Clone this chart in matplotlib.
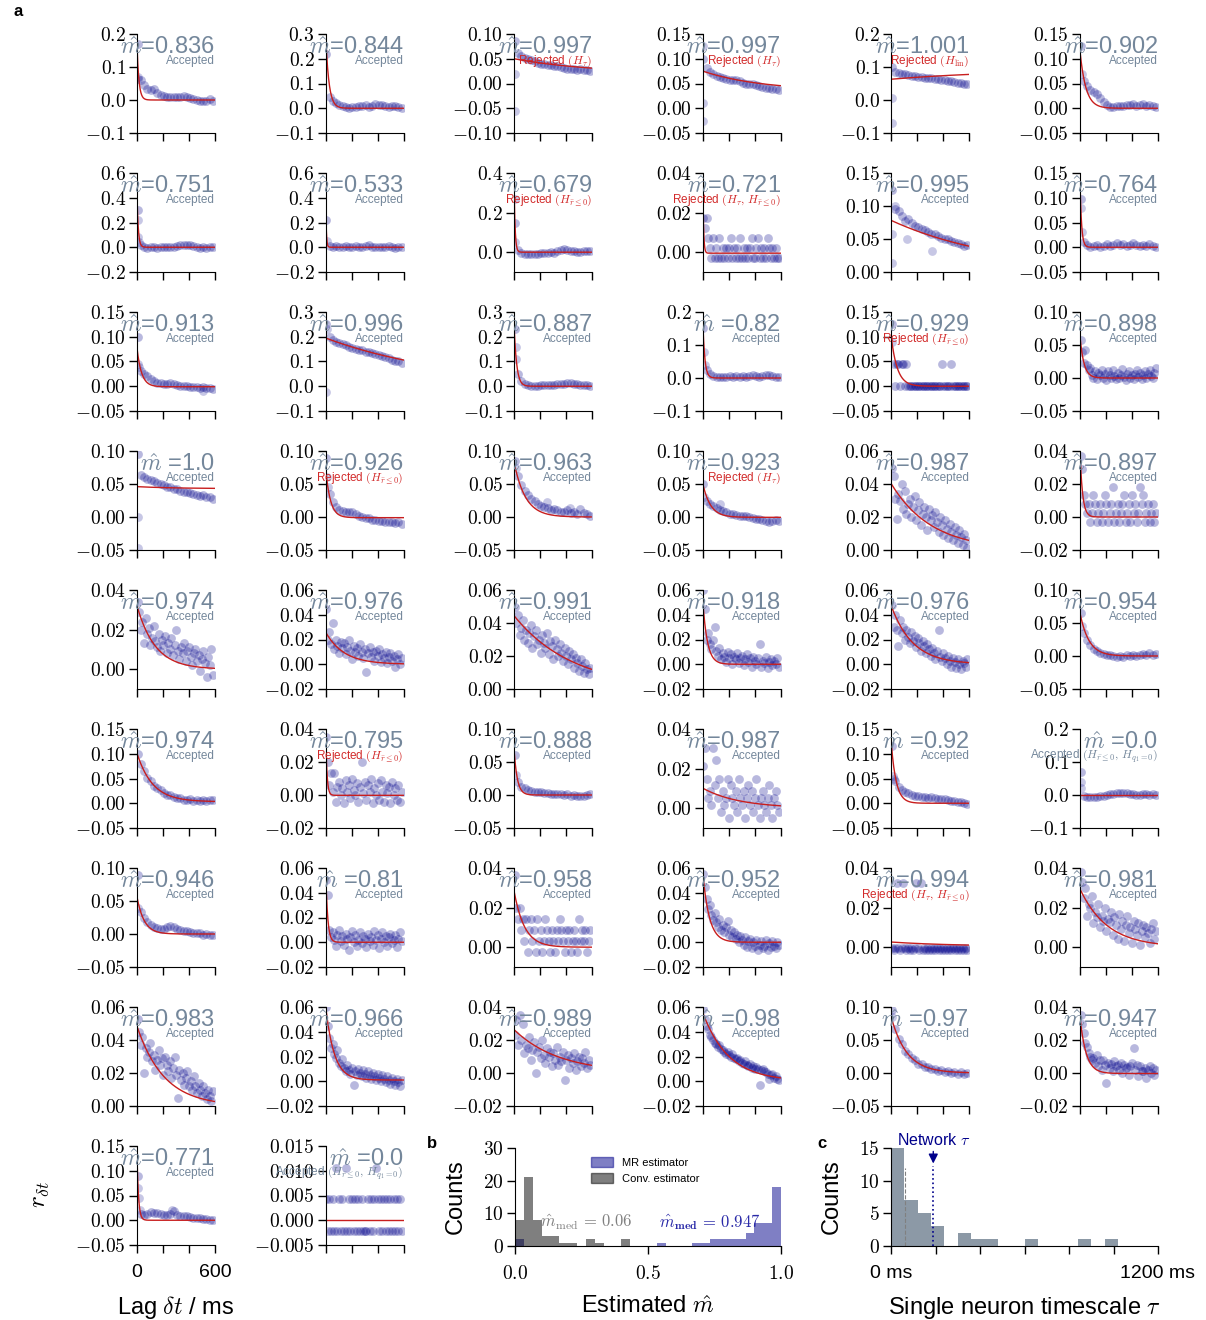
import numpy as np
import matplotlib
matplotlib.use("Agg")
import matplotlib.pyplot as plt
from matplotlib.patches import Patch

plt.rcParams['font.family'] = ['Liberation Sans', 'DejaVu Sans']
plt.rcParams['mathtext.fontset'] = 'cm'

W, H = 1206, 1320
SLATE = '#74879b'
RED = '#d22a2a'
DOT = '#00008b'

# ---- panel a: one entry per neuron (row-major, 6 per row) ----
M_HAT = ['0.836', '0.844', '0.997', '0.997', '1.001', '0.902',
         '0.751', '0.533', '0.679', '0.721', '0.995', '0.764',
         '0.913', '0.996', '0.887', '0.82', '0.929', '0.898',
         '1.0', '0.926', '0.963', '0.923', '0.987', '0.897',
         '0.974', '0.976', '0.991', '0.918', '0.976', '0.954',
         '0.974', '0.795', '0.888', '0.987', '0.92', '0.0',
         '0.946', '0.81', '0.958', '0.952', '0.994', '0.981',
         '0.983', '0.966', '0.989', '0.98', '0.97', '0.947',
         '0.771', '0.0']

STATUS = ['A', 'A', 'Rt', 'Rt', 'Rl', 'A',
          'A', 'A', 'Rr', 'Rtr', 'A', 'A',
          'A', 'A', 'A', 'A', 'Rr', 'A',
          'A', 'Rr', 'A', 'Rt', 'A', 'A',
          'A', 'A', 'A', 'A', 'A', 'A',
          'A', 'Rr', 'A', 'A', 'A', 'Aq',
          'A', 'A', 'A', 'A', 'Rtr', 'A',
          'A', 'A', 'A', 'A', 'A', 'A',
          'A', 'Aq']

STATUS_TEXT = {
    'A': ('Accepted', SLATE),
    'Rt': (r'Rejected $(H_{\tau})$', RED),
    'Rr': (r'Rejected $(H_{\bar{r}\leq 0})$', RED),
    'Rtr': (r'Rejected $(H_{\tau},\,H_{\bar{r}\leq 0})$', RED),
    'Rl': (r'Rejected $(H_{\mathrm{lin}})$', RED),
    'Aq': (r'Accepted $(H_{\bar{r}\leq 0},\,H_{q_1=0})$', SLATE),
}

Y_LO = [-0.1, -0.1, -0.1, -0.05, -0.1, -0.05,
        -0.2, -0.2, -0.1, -0.01, 0.0, -0.05,
        -0.05, -0.1, -0.1, -0.1, -0.05, -0.05,
        -0.05, -0.05, -0.05, -0.05, 0.0, -0.02,
        -0.01, -0.02, 0.0, -0.02, -0.02, -0.05,
        -0.05, -0.02, -0.05, -0.01, -0.05, -0.1,
        -0.05, -0.02, -0.01, -0.02, -0.01, -0.01,
        0.0, -0.02, -0.02, -0.02, -0.05, -0.02,
        -0.05, -0.005]
Y_HI = [0.2, 0.3, 0.1, 0.15, 0.2, 0.15,
        0.6, 0.6, 0.4, 0.04, 0.15, 0.15,
        0.15, 0.3, 0.3, 0.2, 0.15, 0.10,
        0.10, 0.10, 0.10, 0.10, 0.06, 0.04,
        0.04, 0.06, 0.06, 0.06, 0.06, 0.10,
        0.15, 0.04, 0.10, 0.04, 0.15, 0.2,
        0.10, 0.06, 0.04, 0.06, 0.04, 0.04,
        0.06, 0.06, 0.04, 0.06, 0.10, 0.04,
        0.15, 0.015]
Y_STEP = [0.1, 0.1, 0.05, 0.05, 0.1, 0.05,
          0.2, 0.2, 0.2, 0.02, 0.05, 0.05,
          0.05, 0.1, 0.1, 0.1, 0.05, 0.05,
          0.05, 0.05, 0.05, 0.05, 0.02, 0.02,
          0.02, 0.02, 0.02, 0.02, 0.02, 0.05,
          0.05, 0.02, 0.05, 0.02, 0.05, 0.1,
          0.05, 0.02, 0.02, 0.02, 0.02, 0.02,
          0.02, 0.02, 0.02, 0.02, 0.05, 0.02,
          0.05, 0.005]

# exponential fit r = A exp(-t/tau) + C
FIT_A = [0.165, 0.30, 0.03, 0.04, -0.03, 0.115,
         0.42, 0.42, 0.30, 0.0355, 0.078, 0.131,
         0.078, 0.195, 0.235, 0.172, 0.097, 0.063,
         0.003, 0.075, 0.082, 0.051, 0.04, 0.039,
         0.032, 0.026, 0.0443, 0.051, 0.0468, 0.065,
         0.098, 0.04, 0.0656, 0.0101, 0.118, 0.0,
         0.056, 0.06, 0.028, 0.0559, 0.0022, 0.0294,
         0.0483, 0.06, 0.0262, 0.0553, 0.0836, 0.034,
         0.13, 0.0]
FIT_TAU = [15, 25, 600, 450, 900, 45,
           10, 5, 8, 6, 865, 12,
           35, 984, 20, 15, 47, 30,
           300, 36, 87, 59, 310, 20,
           140, 140, 454, 35, 166, 68,
           120, 10, 25, 282, 38, 100,
           55, 15, 80, 50, 500, 211,
           208, 65, 345, 199, 120, 47,
           12, 100]
FIT_C = [0.0, 0.0, 0.02, 0.035, 0.093, 0.0,
         0.0, 0.0, 0.0, -0.0005, 0.0, 0.0,
         -0.001, 0.0, 0.0, 0.0, 0.0, 0.0,
         0.043, -0.001, 0.0, -0.0005, 0.0, 0.0,
         0.0, 0.0, 0.0, 0.0, 0.0, 0.0,
         0.003, -0.0002, 0.0, 0.0, 0.0, -0.0004,
         0.0, 0.0, 0.0, 0.0, 0.0004, 0.0,
         0.0, 0.001, 0.0, 0.0, 0.0, -0.0003,
         0.0, 0.0]

# autocorrelation values r_dt, read per panel, evenly spread over 5..585 ms
R_ROW1 = [
    [0.17, 0.06, 0.045, 0.032, 0.03, 0.033, 0.022, 0.015, 0.012, 0.01, 0.01, 0.008,
     0.01, 0.009, 0.011, 0.008, 0.006, 0.003, 0.0, -0.003, -0.004, -0.002, 0.003, -0.002],
    [0.22, 0.045, 0.03, 0.02, 0.012, 0.008, 0.004, 0.0, 0.004, 0.006, 0.008, 0.01,
     0.012, 0.006, 0.01, 0.016, 0.012, 0.014, 0.01, 0.006, 0.01, 0.008, 0.004, 0.0],
    [0.085, 0.062, 0.055, 0.052, 0.05, 0.047, 0.045, 0.042, 0.04, 0.04, 0.038, 0.038,
     0.036, 0.035, 0.034, 0.032, 0.03, 0.03, 0.029, 0.028, 0.03, 0.027, 0.028, 0.026],
    [0.1, 0.082, 0.074, 0.07, 0.066, 0.063, 0.061, 0.06, 0.058, 0.057, 0.058, 0.055,
     0.052, 0.05, 0.048, 0.048, 0.046, 0.044, 0.042, 0.041, 0.04, 0.038, 0.038, 0.037],
    [0.1, 0.085, 0.082, 0.08, 0.078, 0.075, 0.074, 0.072, 0.071, 0.07, 0.068, 0.067,
     0.066, 0.065, 0.063, 0.062, 0.06, 0.058, 0.057, 0.056, 0.053, 0.051, 0.05, 0.048],
    [0.125, 0.055, 0.044, 0.036, 0.032, 0.028, 0.02, 0.012, 0.006, 0.003, 0.002, 0.004,
     0.004, 0.005, 0.007, 0.006, 0.008, 0.005, 0.006, 0.008, 0.004, 0.006, 0.005, 0.003],
]
R_ROW2 = [
    [0.3, 0.02, 0.0, -0.005, 0.0, 0.0, -0.005, 0.0, 0.0, 0.005, 0.0, 0.005,
     0.01, 0.015, 0.02, 0.015, 0.02, 0.01, 0.0, -0.005, 0.0, -0.005, 0.005, 0.0],
    [0.22, 0.01, 0.0, 0.01, 0.0, 0.005, 0.01, 0.005, 0.0, 0.01, 0.005, 0.0,
     0.01, 0.015, 0.005, 0.0, 0.005, 0.0, 0.005, 0.01, 0.0, -0.005, 0.0, 0.005],
    [0.15, 0.01, -0.005, -0.008, -0.01, -0.008, -0.01, -0.008, -0.006, -0.005, -0.003, 0.0,
     -0.002, 0.005, 0.01, 0.014, 0.012, 0.008, 0.005, 0.0, 0.003, 0.005, 0.008, 0.005],
    [0.0173, 0.0123, 0.0173, 0.0072, 0.0021, -0.0029, 0.0072, -0.0029,
     0.0021, -0.0029, 0.0072, -0.0029, 0.0021, -0.0029, 0.0021, -0.0029,
     0.0021, 0.0072, -0.0029, 0.0021, -0.0029, 0.0021, -0.0029, 0.0072,
     -0.0029, 0.0021, -0.0029, 0.0021, -0.0029, 0.0021, 0.0072, -0.0029,
     -0.0029, 0.0021, 0.0072, -0.0029, 0.0021, -0.0029, 0.0021, -0.0029,
     0.0072, 0.0021, -0.0029, 0.0021, -0.0029, 0.0021, -0.0029, -0.0029],
    [0.125, 0.095, 0.092, 0.085, 0.078, 0.08, 0.074, 0.07, 0.068, 0.065, 0.064, 0.06,
     0.058, 0.057, 0.055, 0.052, 0.05, 0.05, 0.047, 0.046, 0.044, 0.042, 0.04, 0.041],
    [0.097, 0.01, 0.005, 0.0, 0.002, 0.005, 0.0, 0.003, 0.006, 0.002, 0.005, 0.008,
     0.004, 0.006, 0.002, 0.005, 0.008, 0.004, 0.002, 0.005, 0.003, 0.006, 0.002, 0.0],
]
R_ROW3 = [
    [0.1, 0.03, 0.024, 0.02, 0.015, 0.01, 0.007, 0.006, 0.005, 0.005, 0.006, 0.004,
     0.003, 0.001, 0.0, 0.001, -0.001, -0.002, -0.001, -0.003, -0.002, -0.004, -0.003, -0.006],
    [0.25, 0.2, 0.185, 0.18, 0.175, 0.17, 0.165, 0.16, 0.155, 0.15, 0.148, 0.145,
     0.14, 0.137, 0.133, 0.13, 0.126, 0.122, 0.118, 0.114, 0.108, 0.104, 0.1, 0.095],
    [0.23, 0.05, 0.02, 0.01, 0.005, 0.003, 0.0, 0.002, 0.004, 0.006, 0.005, 0.006,
     0.007, 0.008, 0.008, 0.01, 0.012, 0.012, 0.01, 0.008, 0.006, 0.005, 0.004, 0.002],
    [0.15, 0.025, 0.012, 0.005, 0.003, 0.002, 0.004, 0.002, 0.005, 0.003, 0.006, 0.002,
     0.005, 0.004, 0.006, 0.008, 0.005, 0.004, 0.006, 0.008, 0.01, 0.006, 0.004, 0.002],
    [0.126, 0.0445, -0.0005, 0.0445, 0.0445, -0.0005, 0.0445, 0.0445,
     -0.0005, 0.0445, -0.0005, -0.0005, -0.0005, -0.0005, -0.0005, -0.0005,
     -0.0005, -0.0005, -0.0005, -0.0005, -0.0005, -0.0005, -0.0005, -0.0005,
     -0.0005, -0.0005, -0.0005, -0.0005, -0.0005, -0.0005, -0.0005, 0.0445,
     -0.0005, -0.0005, -0.0005, -0.0005, -0.0005, 0.0445, -0.0005, -0.0005,
     -0.0005, -0.0005, -0.0005, -0.0005, -0.0005, -0.0005, -0.0005, -0.0005],
    [0.058, 0.04, 0.022, 0.043, 0.02, 0.012, 0.015, 0.005,
     0.0, 0.01, -0.002, 0.008, 0.004, 0.012, 0.0, 0.006,
     -0.003, 0.01, 0.004, 0.0, 0.012, 0.003, -0.002, 0.008,
     0.0, 0.004, 0.013, 0.002, -0.003, 0.006, 0.01, 0.0,
     0.004, -0.002, 0.006, 0.012, 0.002, 0.008, -0.001, 0.004,
     0.01, 0.0, 0.006, 0.012, 0.003, 0.0, 0.008, 0.015],
]
R_ROW4 = [
    [0.095, 0.064, 0.06, 0.057, 0.056, 0.054, 0.052, 0.05, 0.048, 0.046, 0.045, 0.043,
     0.042, 0.04, 0.038, 0.038, 0.036, 0.035, 0.033, 0.032, 0.033, 0.031, 0.03, 0.028],
    [0.09, 0.035, 0.022, 0.015, 0.01, 0.009, 0.008, 0.007, 0.007, 0.005, 0.002, 0.0,
     -0.001, -0.002, -0.004, -0.005, -0.006, -0.006, -0.007, -0.008, -0.008, -0.009, -0.007, -0.01],
    [0.085, 0.062, 0.048, 0.04, 0.033, 0.028, 0.024, 0.02, 0.017, 0.015, 0.013, 0.011,
     0.012, 0.01, 0.008, 0.007, 0.01, 0.006, 0.007, 0.005, 0.012, 0.006, 0.004, 0.002],
    [0.05, 0.025, 0.02, 0.016, 0.014, 0.011, 0.009, 0.007, 0.005, 0.004, 0.003, 0.002,
     0.002, 0.001, 0.0, -0.002, -0.003, -0.003, -0.005, -0.006, -0.007, -0.006, -0.004, -0.006],
    [0.05, 0.045, 0.031, 0.019, 0.034, 0.03, 0.04, 0.025,
     0.036, 0.022, 0.028, 0.031, 0.02, 0.026, 0.033, 0.018,
     0.024, 0.029, 0.015, 0.022, 0.026, 0.02, 0.012, 0.025,
     0.018, 0.021, 0.014, 0.023, 0.017, 0.011, 0.02, 0.015,
     0.009, 0.018, 0.013, 0.007, 0.016, 0.011, 0.006, 0.014,
     0.009, 0.004, 0.012, 0.008, 0.003, 0.01, 0.006, 0.001],
    [0.037, 0.029, 0.0131, 0.0078, 0.0027, 0.0078, -0.0029, 0.0027,
     0.0131, 0.0078, -0.0029, 0.0027, 0.0078, -0.0029, 0.0027, 0.0131,
     0.0078, -0.0029, 0.0027, 0.0078, 0.0179, -0.0029, 0.0027, 0.0078,
     -0.0029, 0.0027, 0.0078, 0.0131, -0.0029, 0.0027, 0.0078, -0.0029,
     0.0131, 0.0027, 0.0078, -0.0029, 0.0027, 0.0179, 0.0078, 0.0131,
     -0.0029, 0.0027, 0.0078, -0.0029, 0.0027, 0.0078, -0.0029, 0.0027],
]
R_ROW5 = [
    [0.034, 0.029, 0.02, 0.024, 0.013, 0.026, 0.018, 0.021,
     0.012, 0.016, 0.022, 0.014, 0.011, 0.018, 0.009, 0.015,
     0.012, 0.017, 0.008, 0.013, 0.01, 0.016, 0.007, 0.012,
     0.02, 0.009, 0.005, 0.011, 0.008, 0.013, 0.004, 0.009,
     0.011, 0.006, 0.002, 0.008, 0.01, 0.004, 0.007, -0.001,
     0.005, 0.009, 0.003, -0.004, 0.006, 0.002, 0.01, -0.003],
    [0.045, 0.02, 0.026, 0.016, 0.033, 0.012, 0.02, 0.015,
     0.009, 0.018, 0.013, 0.017, 0.008, 0.014, 0.02, 0.011,
     0.004, 0.015, 0.01, 0.013, 0.007, 0.016, 0.01, 0.005,
     0.012, -0.006, 0.009, 0.014, 0.006, 0.01, 0.003, 0.011,
     0.007, 0.012, 0.002, 0.008, 0.005, 0.01, 0.001, 0.006,
     0.009, 0.003, 0.007, -0.002, 0.004, 0.008, 0.0, 0.005],
    [0.05, 0.04, 0.045, 0.033, 0.037, 0.042, 0.03, 0.036,
     0.028, 0.034, 0.039, 0.025, 0.032, 0.036, 0.027, 0.03,
     0.022, 0.033, 0.028, 0.025, 0.034, 0.021, 0.029, 0.026,
     0.018, 0.03, 0.024, 0.02, 0.027, 0.022, 0.017, 0.025,
     0.02, 0.015, 0.023, 0.018, 0.021, 0.013, 0.019, 0.016,
     0.011, 0.018, 0.014, 0.01, 0.016, 0.012, 0.009, 0.013],
    [0.06, 0.045, 0.02, 0.025, 0.016, 0.012, 0.02, 0.03,
     0.011, 0.007, 0.013, 0.004, 0.009, 0.006, 0.002, 0.01,
     0.005, 0.008, 0.0, 0.006, 0.004, 0.009, 0.001, 0.005,
     0.007, -0.001, 0.004, 0.008, 0.002, 0.005, -0.002, 0.006,
     0.003, 0.0, 0.005, 0.016, -0.002, 0.003, 0.001, 0.006,
     -0.003, 0.002, 0.004, -0.001, 0.003, 0.0, 0.005, -0.002],
    [0.048, 0.03, 0.04, 0.028, 0.015, 0.036, 0.025, 0.03,
     0.02, 0.028, 0.022, 0.017, 0.026, 0.019, 0.023, 0.014,
     0.021, 0.017, 0.011, 0.019, 0.015, 0.009, 0.016, 0.012,
     0.007, 0.013, 0.009, 0.004, 0.011, 0.028, 0.006, 0.003,
     0.009, 0.005, 0.0, 0.007, 0.003, -0.002, 0.005, 0.002,
     -0.003, 0.004, 0.0, -0.004, 0.003, 0.001, -0.002, 0.004],
    [0.065, 0.035, 0.024, 0.016, 0.011, 0.008, 0.005, 0.003, 0.002, 0.001, 0.0, -0.002,
     0.0, -0.001, 0.001, 0.0, 0.002, 0.0, 0.001, 0.003, 0.002, 0.004, 0.001, 0.003],
]
R_ROW6 = [
    [0.1, 0.08, 0.066, 0.052, 0.045, 0.035, 0.03, 0.026, 0.02, 0.017, 0.016, 0.012,
     0.011, 0.01, 0.007, 0.006, 0.008, 0.005, 0.006, 0.004, 0.007, 0.005, 0.006, 0.006],
    [0.035, 0.02, 0.006, 0.0136, 0.002, 0.0136, -0.004, 0.005,
     0.008, 0.0, 0.004, -0.005, 0.009, 0.002, 0.006, -0.002,
     0.01, 0.003, 0.0, 0.007, -0.004, 0.005, 0.02, 0.001,
     0.008, -0.003, 0.006, 0.002, 0.01, -0.005, 0.004, 0.0,
     0.007, -0.003, 0.009, 0.002, -0.004, 0.006, 0.001, 0.005,
     -0.005, 0.008, 0.0, 0.004, -0.003, 0.006, -0.004, 0.002],
    [0.06, 0.02, 0.012, 0.01, 0.008, 0.006, 0.005, 0.004, 0.004, 0.003, 0.003, 0.002,
     0.002, 0.001, 0.002, 0.0, 0.001, -0.001, 0.0, -0.002, -0.001, -0.002, 0.0, 0.001],
    [0.0212, 0.0306, 0.0149, 0.005, 0.0089, 0.0015, 0.0306, 0.0118,
     0.0243, 0.005, 0.0149, -0.0019, 0.0089, 0.0015, 0.005, 0.0149,
     -0.0048, 0.0118, 0.005, 0.0015, 0.0089, -0.0019, 0.0149, 0.005,
     0.0015, 0.0089, -0.0048, 0.005, 0.0118, 0.0015, 0.0089, -0.0019,
     0.005, 0.0149, 0.0015, -0.0048, 0.005, 0.0089, 0.0015, -0.0019,
     0.005, 0.0118, 0.0015, -0.0048, 0.005, 0.0089, 0.0015, -0.0019],
    [0.115, 0.045, 0.033, 0.027, 0.022, 0.02, 0.017, 0.015, 0.014, 0.013, 0.012, 0.011,
     0.012, 0.01, 0.009, 0.008, 0.008, 0.006, 0.005, 0.004, 0.003, 0.002, 0.0, -0.002],
    [0.07, -0.003, -0.006, -0.007, -0.007, -0.005, -0.004, -0.002, 0.0, 0.002, 0.003, 0.005,
     0.006, 0.005, 0.006, 0.004, 0.003, 0.001, 0.0, 0.002, 0.003, 0.001, 0.002, 0.001],
]
R_ROW7 = [
    [0.09, 0.034, 0.024, 0.018, 0.013, 0.011, 0.009, 0.007, 0.008, 0.01, 0.012, 0.01,
     0.007, 0.006, 0.004, 0.004, 0.003, 0.002, 0.001, 0.001, -0.001, 0.0, -0.002, -0.001],
    [0.05, 0.038, 0.01, 0.004, 0.008, 0.002, -0.003, 0.006,
     0.01, 0.001, 0.005, -0.002, 0.007, 0.003, -0.006, 0.004,
     0.009, 0.0, 0.006, -0.003, 0.002, 0.008, -0.001, 0.005,
     0.003, -0.004, 0.007, 0.001, 0.004, -0.002, 0.009, 0.002,
     0.006, -0.005, 0.003, 0.008, 0.0, 0.005, -0.003, 0.004,
     0.007, -0.001, 0.002, 0.006, -0.004, 0.003, 0.008, 0.001],
    [0.0366, 0.02, 0.0141, 0.02, 0.0089, 0.0141, 0.0031, 0.0141,
     -0.0026, 0.0089, 0.0141, 0.0031, 0.0089, -0.0026, 0.0141, 0.0031,
     0.0089, -0.0026, 0.0031, 0.0141, 0.0089, 0.0031, -0.0026, 0.0089,
     0.0031, -0.0026, 0.0089, 0.0031, 0.0141, 0.0089, 0.0031, -0.0026,
     0.0089, 0.0031, 0.0089, -0.0026, 0.0031, 0.0089, 0.0031, -0.0026,
     0.0141, 0.0031, 0.0089, 0.0031, 0.0089, -0.0026, 0.0031, 0.0089],
    [0.055, 0.045, 0.035, 0.027, 0.03, 0.022, 0.018, 0.024,
     0.016, 0.012, 0.019, 0.01, 0.014, 0.008, 0.012, 0.017,
     0.006, 0.01, 0.004, 0.008, 0.003, 0.006, 0.0, 0.005,
     0.002, -0.002, 0.004, -0.004, 0.001, 0.003, -0.005, 0.0,
     -0.003, 0.002, -0.006, -0.002, 0.001, -0.005, -0.003, 0.002,
     -0.006, -0.001, -0.004, 0.001, -0.003, -0.005, 0.0, -0.002],
    [-0.0005, -0.0012, -0.0005, 0.0325, -0.0005, -0.0012, -0.0005, 0.0325,
     -0.0005, -0.0012, -0.0005, -0.0012, -0.0005, -0.0012, -0.0005, 0.0325,
     -0.0005, -0.0012, 0.0325, -0.0012, -0.0005, -0.0012, -0.0005, -0.0012,
     -0.0005, -0.0012, -0.0005, -0.0012, -0.0005, -0.0012, -0.0005, -0.0012,
     -0.0005, -0.0012, -0.0005, -0.0012, -0.0005, -0.0012, -0.0005, -0.0012,
     -0.0005, -0.0012, -0.0005, -0.0012, -0.0005, -0.0012, -0.0005, -0.0012],
    [0.038, 0.033, 0.0247, 0.03, 0.016, 0.022, 0.02, 0.026,
     0.012, 0.018, 0.015, 0.022, 0.01, 0.016, 0.013, 0.02,
     0.008, 0.014, 0.0128, 0.018, 0.006, 0.015, 0.011, 0.004,
     0.017, 0.009, 0.013, 0.003, 0.011, 0.016, 0.007, 0.01,
     0.002, 0.013, 0.009, 0.006, 0.012, 0.001, 0.008, 0.011,
     0.005, 0.01, 0.007, 0.002, 0.009, 0.012, 0.004, 0.008],
]
R_ROW8 = [
    [0.053, 0.045, 0.037, 0.042, 0.02, 0.035, 0.03, 0.033,
     0.038, 0.027, 0.031, 0.022, 0.028, 0.034, 0.025, 0.029,
     0.019, 0.03, 0.025, 0.021, 0.027, 0.017, 0.023, 0.03,
     0.019, 0.005, 0.022, 0.016, 0.02, 0.013, 0.017, 0.021,
     0.012, 0.015, 0.01, 0.018, 0.012, 0.008, 0.014, 0.01,
     0.006, 0.012, 0.008, 0.004, 0.01, 0.006, 0.003, 0.009],
    [0.06, 0.045, 0.035, 0.027, 0.03, 0.022, 0.019, 0.025,
     0.015, 0.012, 0.018, 0.011, 0.008, 0.013, 0.009, 0.006,
     0.011, -0.003, 0.008, 0.005, 0.01, 0.007, 0.004, 0.009,
     0.006, 0.003, 0.008, 0.005, 0.002, 0.007, 0.004, 0.001,
     0.006, 0.003, 0.0, 0.005, 0.002, -0.001, 0.004, 0.001,
     -0.002, 0.003, 0.0, -0.003, 0.002, -0.001, -0.004, 0.001],
    [0.023, 0.032, 0.017, 0.035, 0.02, 0.03, 0.012, 0.017,
     0.015, 0.022, 0.008, 0.014, 0.019, 0.0, 0.013, 0.016,
     0.009, 0.02, 0.011, 0.006, 0.015, 0.01, 0.013, 0.004,
     0.012, 0.008, 0.016, 0.005, 0.01, 0.007, 0.013, -0.004,
     0.008, 0.011, 0.003, 0.009, 0.006, 0.012, 0.002, 0.007,
     0.01, 0.004, 0.009, 0.006, 0.013, 0.003, 0.008, 0.005],
    [0.058, 0.05, 0.0444, 0.042, 0.0375, 0.036, 0.033, 0.031,
     0.03, 0.028, 0.029, 0.026, 0.025, 0.024, 0.022, 0.0238,
     0.021, 0.02, 0.022, 0.019, 0.018, 0.0184, 0.016, 0.017,
     0.015, 0.014, 0.016, 0.0129, 0.012, 0.014, 0.011, 0.012,
     0.01, 0.0115, 0.01, -0.003, 0.009, 0.01, 0.008, 0.0074,
     0.006, 0.0019, 0.005, 0.006, 0.003, 0.004, 0.002, 0.001],
    [0.095, 0.066, 0.052, 0.044, 0.034, 0.029, 0.022, 0.02, 0.014, 0.013, 0.009, 0.009,
     0.006, 0.006, 0.003, 0.005, 0.002, 0.003, 0.0, 0.002, -0.001, 0.001, -0.002, 0.0],
    [0.035, 0.03, 0.0241, 0.018, 0.0159, 0.012, 0.01, 0.0077,
     0.009, 0.006, 0.011, 0.004, 0.0077, 0.002, 0.008, 0.005,
     -0.006, 0.006, 0.003, 0.0056, 0.001, 0.007, 0.004, 0.0046,
     0.002, 0.006, 0.0, 0.005, 0.003, 0.0036, -0.001, 0.004,
     0.006, 0.015, 0.002, 0.005, -0.002, 0.004, 0.0015, 0.001,
     0.003, -0.003, 0.002, 0.004, 0.0, 0.003, -0.001, 0.002],
]
R_ROW9 = [
    [0.089, 0.012, 0.011, 0.013, 0.016, 0.015, 0.014, 0.012, 0.011, 0.011, 0.013, 0.018,
     0.01, 0.009, 0.008, 0.008, 0.006, 0.005, 0.005, 0.004, 0.003, 0.002, 0.001, 0.001],
    [0.0042, -0.0022, 0.0042, -0.0022, 0.0042, -0.0022, 0.0106, -0.0022,
     0.0042, -0.0022, 0.0042, -0.0022, 0.0106, -0.0022, 0.0042, -0.0022,
     0.0042, -0.0022, 0.0042, -0.0022, 0.0042, -0.0022, 0.0042, -0.0022,
     -0.0022, -0.0022, 0.0042, -0.0022, 0.0042, -0.0022, 0.0042, 0.0106,
     0.0042, -0.0022, 0.0042, -0.0022, 0.0042, -0.0022, 0.0042, -0.0022,
     0.0042, -0.0022, 0.0042, -0.0022, 0.0042, -0.0022, 0.0042, -0.0022],
]

# extra (lag ms, r) points that stand apart from the bulk
OUTLIERS = {
    0: [(5, 0.07), (10, 0.065)],
    2: [(5, 0.02), (5, -0.055)],
    3: [(5, 0.125), (5, 0.01), (5, -0.025)],
    4: [(5, 0.005), (5, -0.07)],
    5: [(12, 0.07)],
    6: [(5, 0.22), (10, 0.08), (15, 0.04)],
    7: [(8, 0.05)],
    8: [(5, 0.27), (8, 0.05)],
    10: [(5, 0.057), (5, 0.013), (310, 0.032), (120, 0.05), (30, 0.1)],
    11: [(8, 0.08), (15, 0.03)],
    12: [(8, 0.045), (15, 0.038), (510, -0.009)],
    13: [(5, -0.025), (10, 0.23)],
    14: [(10, 0.11), (15, 0.16)],
    15: [(8, 0.08), (15, 0.04)],
    16: [(5, 0.09)],
    18: [(5, 0.0), (5, -0.047)],
    19: [(8, 0.06), (15, 0.045)],
    20: [(15, 0.075), (250, 0.022), (430, 0.014)],
    21: [(10, 0.03), (130, 0.02)],
    29: [(15, 0.045)],
    32: [(15, 0.03)],
    34: [(10, 0.056), (20, 0.05)],
    35: [(5, 0.04), (10, 0.02)],
    36: [(10, 0.04)],
    46: [(8, 0.085)],
    48: [(8, 0.065), (12, 0.045), (20, 0.02), (270, 0.02)],
}

# ---- panel b ----
BIN_EDGES_M = np.linspace(0, 1, 31)
MR_COUNTS = [2, 0, 0, 0, 0, 0, 0, 0, 0, 0, 0, 0, 0, 0, 0, 0, 1, 0, 0, 0,
             1, 1, 2, 2, 2, 2, 4, 7, 7, 18]
CONV_COUNTS = [8, 21, 8, 3, 3, 1, 1, 0, 2, 1, 0, 0, 2, 0, 0, 0, 0, 0, 0, 0,
               0, 0, 0, 0, 0, 0, 0, 0, 0, 0]
CONV_MEDIAN = '0.06'
MR_MEDIAN = '0.947'

# ---- panel c ----
BIN_EDGES_TAU = np.arange(0, 1201, 60)
TAU_COUNTS = [15, 7, 5, 3, 0, 2, 1, 1, 0, 0, 1, 0, 0, 0, 1, 0, 1, 0, 0, 0]
MEDIAN_TAU = 63
NETWORK_TAU = 190


def add_axes_px(left, top, width, height):
    return fig.add_axes([left / W, 1 - (top + height) / H, width / W, height / H])


def style(ax):
    ax.spines['top'].set_visible(False)
    ax.spines['right'].set_visible(False)
    ax.tick_params(direction='out', length=6, width=1, labelsize=14, pad=2)


def y_ticks(lo, hi, step):
    d = int(-np.floor(np.log10(step) + 1e-9))
    k0 = int(np.ceil(lo / step - 1e-6))
    k1 = int(np.floor(hi / step + 1e-6))
    vals, labs = [], []
    for k in range(k0, k1 + 1):
        v = k * step
        if abs(v) < 1e-12:
            v = 0.0
        vals.append(v)
        labs.append('$%.*f$' % (d, v))
    return vals, labs


fig = plt.figure(figsize=(W / 100, H / 100), dpi=100)

R_ALL = R_ROW1 + R_ROW2 + R_ROW3 + R_ROW4 + R_ROW5 + R_ROW6 + R_ROW7 + R_ROW8 + R_ROW9
t_fit = np.linspace(0, 600, 400)

for i, vals in enumerate(R_ALL):
    r, c = divmod(i, 6)
    ax = add_axes_px(137 + 188.6 * c, 34 + 139 * r, 78, 99)
    style(ax)
    lags = np.linspace(5, 585, len(vals))
    ax.scatter(lags, vals, s=40, color=DOT, alpha=0.28, linewidths=0)
    if i in OUTLIERS:
        ot, orr = zip(*OUTLIERS[i])
        ax.scatter(ot, orr, s=40, color=DOT, alpha=0.22, linewidths=0)
    ax.plot(t_fit, FIT_A[i] * np.exp(-t_fit / FIT_TAU[i]) + FIT_C[i], color='#c81e1e', lw=1)
    ax.set_xlim(0, 600)
    ax.set_ylim(Y_LO[i], Y_HI[i])
    yt, yl = y_ticks(Y_LO[i], Y_HI[i], Y_STEP[i])
    ax.set_yticks(yt)
    ax.set_yticklabels(yl)
    ax.set_xticks([0, 200, 400, 600])
    if i == 48:
        ax.set_xticklabels(['0', '', '', '600'], fontsize=14)
        ax.tick_params(axis='x', pad=8)
        ax.set_xlabel(r'Lag $\delta t$ / ms', fontsize=17, labelpad=9)
    else:
        ax.set_xticklabels([])
    sep = '=' if len(M_HAT[i].split('.')[1]) == 3 else ' ='
    ax.text(1.0, 0.80, r'$\hat{m}$' + sep + M_HAT[i], transform=ax.transAxes,
            ha='right', va='baseline', fontsize=17, color=SLATE, zorder=5)
    txt, col = STATUS_TEXT[STATUS[i]]
    ax.text(1.0, 0.70, txt, transform=ax.transAxes, ha='right', va='baseline',
            fontsize=8.5, color=col, zorder=5)

fig.text(40 / W, 1 - 1195 / H, r'$r_{\delta t}$', rotation=90, fontsize=18,
         ha='center', va='center')

# ---- panel b ----
axb = add_axes_px(515, 1148, 266, 98)
style(axb)
w = BIN_EDGES_M[1] - BIN_EDGES_M[0]
axb.bar(BIN_EDGES_M[:-1], MR_COUNTS, width=w, align='edge', color='darkblue', alpha=0.5,
        linewidth=0)
axb.bar(BIN_EDGES_M[:-1], CONV_COUNTS, width=w, align='edge', color='black', alpha=0.5,
        linewidth=0)
axb.set_xlim(0, 1)
axb.set_ylim(0, 30)
axb.set_xticks([0, 0.5, 1.0])
axb.set_xticklabels(['$0.0$', '$0.5$', '$1.0$'])
axb.set_yticks([0, 10, 20, 30])
axb.set_yticklabels(['$0$', '$10$', '$20$', '$30$'])
axb.tick_params(axis='x', pad=8)
axb.set_xlabel(r'Estimated $\hat{m}$', fontsize=17, labelpad=9)
axb.set_ylabel('Counts', fontsize=17, labelpad=12)
axb.text(0.094, 5.8, r'$\hat{m}_{\mathrm{med}}\,=\,$' + '$' + CONV_MEDIAN + '$',
         color='#808080', fontsize=12, va='baseline')
axb.text(0.54, 5.8, r'$\hat{m}_{\mathbf{med}}\,=\,$' + '$' + MR_MEDIAN + '$',
         color='#2a2aa8', fontsize=12, va='baseline')
axb.legend(handles=[Patch(color='darkblue', alpha=0.5, label='MR estimator'),
                    Patch(color='black', alpha=0.5, label='Conv. estimator')],
           loc='upper left', bbox_to_anchor=(0.27, 0.95), frameon=False, fontsize=8,
           handlelength=2.0, handleheight=0.9, labelspacing=0.5, borderaxespad=0)

# ---- panel c ----
axc = add_axes_px(891, 1148, 267, 98)
style(axc)
axc.bar(BIN_EDGES_TAU[:-1], TAU_COUNTS, width=60, align='edge', color='slategray',
        alpha=0.8, linewidth=0)
axc.vlines(MEDIAN_TAU, 0, 12, colors='gray', linestyles='--', lw=0.8)
axc.vlines(NETWORK_TAU, 0, 12.3, colors='darkblue', linestyles=':', lw=1.2)
axc.annotate('', xy=(NETWORK_TAU, 12.2), xytext=(NETWORK_TAU, 14.9),
             arrowprops=dict(arrowstyle='-|>', color='darkblue', lw=1, mutation_scale=14),
             annotation_clip=False)
axc.text(NETWORK_TAU, 16.3, r'Network $\tau$', ha='center', va='center',
         color='darkblue', fontsize=11.5, clip_on=False)
axc.set_xlim(0, 1200)
axc.set_ylim(0, 15)
axc.set_xticks(np.arange(0, 1201, 200))
axc.set_xticklabels(['0 ms', '', '', '', '', '', '1200 ms'], fontsize=14)
axc.set_yticks([0, 5, 10, 15])
axc.set_yticklabels(['$0$', '$5$', '$10$', '$15$'])
axc.tick_params(axis='x', pad=8)
axc.set_xlabel(r'Single neuron timescale $\tau$', fontsize=17, labelpad=9)
axc.set_ylabel('Counts', fontsize=17, labelpad=12)

# panel letters
fig.text(13 / W, 1 - 12 / H, 'a', fontsize=12, fontweight='bold', va='center')
fig.text(427 / W, 1 - 1143 / H, 'b', fontsize=12, fontweight='bold', va='center')
fig.text(817 / W, 1 - 1143 / H, 'c', fontsize=12, fontweight='bold', va='center')

fig.savefig('out.png', dpi=100)
